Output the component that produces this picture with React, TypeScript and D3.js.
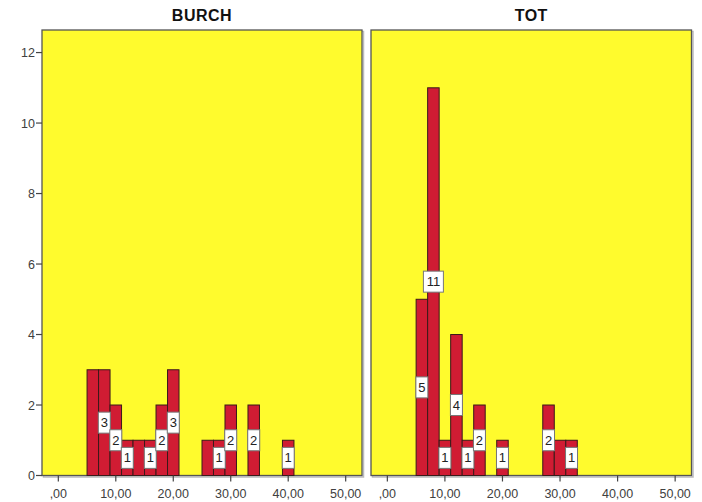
import React from "react";
import * as d3 from "d3";

// Histogram bins (lower edge, width 2) and counts per group
const binStartsBurch = [5, 7, 9, 11, 13, 15, 17, 19, 25, 27, 29, 33, 39];
const countsBurch = [3, 3, 2, 1, 1, 1, 2, 3, 1, 1, 2, 2, 1];
const labeledBurch = [false, true, true, true, false, true, true, true, false, true, true, true, true];

const binStartsTot = [5, 7, 9, 11, 13, 15, 19, 27, 29, 31];
const countsTot = [5, 11, 1, 4, 1, 2, 1, 2, 1, 1];
const labeledTot = [true, true, true, true, true, true, true, true, false, true];

const panelTitles = ["BURCH", "TOT"];
const xTicks = [0, 10, 20, 30, 40, 50];
const yTicks = [0, 2, 4, 6, 8, 10, 12];
const binWidth = 2;

const W = 702;
const H = 502;
const top = 30;
const bottom = 475.5;
const panels = [
  { x0: 42, x1: 362, starts: binStartsBurch, counts: countsBurch, labeled: labeledBurch },
  { x0: 371, x1: 691.5, starts: binStartsTot, counts: countsTot, labeled: labeledTot },
];

const fmt = (v: number) => d3.format(".2f")(v).replace(".", ",").replace(/^0/, "");

export default function App() {
  const y = d3.scaleLinear().domain([0, 12.64]).range([bottom, top]);
  const font = "Arial, 'Liberation Sans', sans-serif";
  return (
    <svg width={W} height={H} style={{ position: "absolute", left: 0, top: 0 }}>
      <rect width={W} height={H} fill="#fff" />
      {panels.map((p, pi) => {
        const x = d3.scaleLinear().domain([-2.84, 52.84]).range([p.x0, p.x1]);
        return (
          <g key={pi}>
            <text x={(p.x0 + p.x1) / 2} y={20.5} textAnchor="middle" fontFamily={font}
              fontWeight="bold" fontSize={16} letterSpacing={0.5} fill="#111">{panelTitles[pi]}</text>
            <rect x={p.x0 + 1.5} y={top + 1.5} width={p.x1 - p.x0} height={bottom - top}
              fill="none" stroke="#bbb" strokeWidth={1.5} />
            <rect x={p.x0} y={top} width={p.x1 - p.x0} height={bottom - top}
              fill="#FFFB2D" stroke="#555" strokeWidth={1.3} />
            {p.starts.map((s, i) => (
              <rect key={i} x={x(s)} y={y(p.counts[i])} width={x(s + binWidth) - x(s)}
                height={bottom - y(p.counts[i])} fill="#D01C33" stroke="#3a1a1a" strokeWidth={1} />
            ))}
            {p.starts.map((s, i) => {
              if (!p.labeled[i]) return null;
              const cx = x(s + binWidth / 2);
              const cy = y(p.counts[i] / 2);
              const txt = String(p.counts[i]);
              const bw = txt.length > 1 ? 20 : 12;
              return (
                <g key={"l" + i}>
                  <rect x={cx - bw / 2} y={cy - 10.5} width={bw} height={21} fill="#fff" stroke="#777" strokeWidth={1} />
                  <text x={cx} y={cy + 4.5} textAnchor="middle" fontFamily={font} fontSize={13} fill="#222">{txt}</text>
                </g>
              );
            })}
            {xTicks.map((t) => (
              <g key={t}>
                <line x1={x(t)} x2={x(t)} y1={bottom} y2={bottom + 6} stroke="#444" strokeWidth={1.2} />
                <text x={x(t)} y={497.5} textAnchor="middle" fontFamily={font} fontSize={12.5} fill="#404040">{fmt(t)}</text>
              </g>
            ))}
            {pi === 0 && yTicks.map((t) => (
              <g key={"y" + t}>
                <line x1={p.x0 - 6} x2={p.x0} y1={y(t)} y2={y(t)} stroke="#444" strokeWidth={1.2} />
                <text x={p.x0 - 7} y={y(t) + 4.5} textAnchor="end" fontFamily={font} fontSize={12.5} fill="#404040">{t}</text>
              </g>
            ))}
          </g>
        );
      })}
    </svg>
  );
}
